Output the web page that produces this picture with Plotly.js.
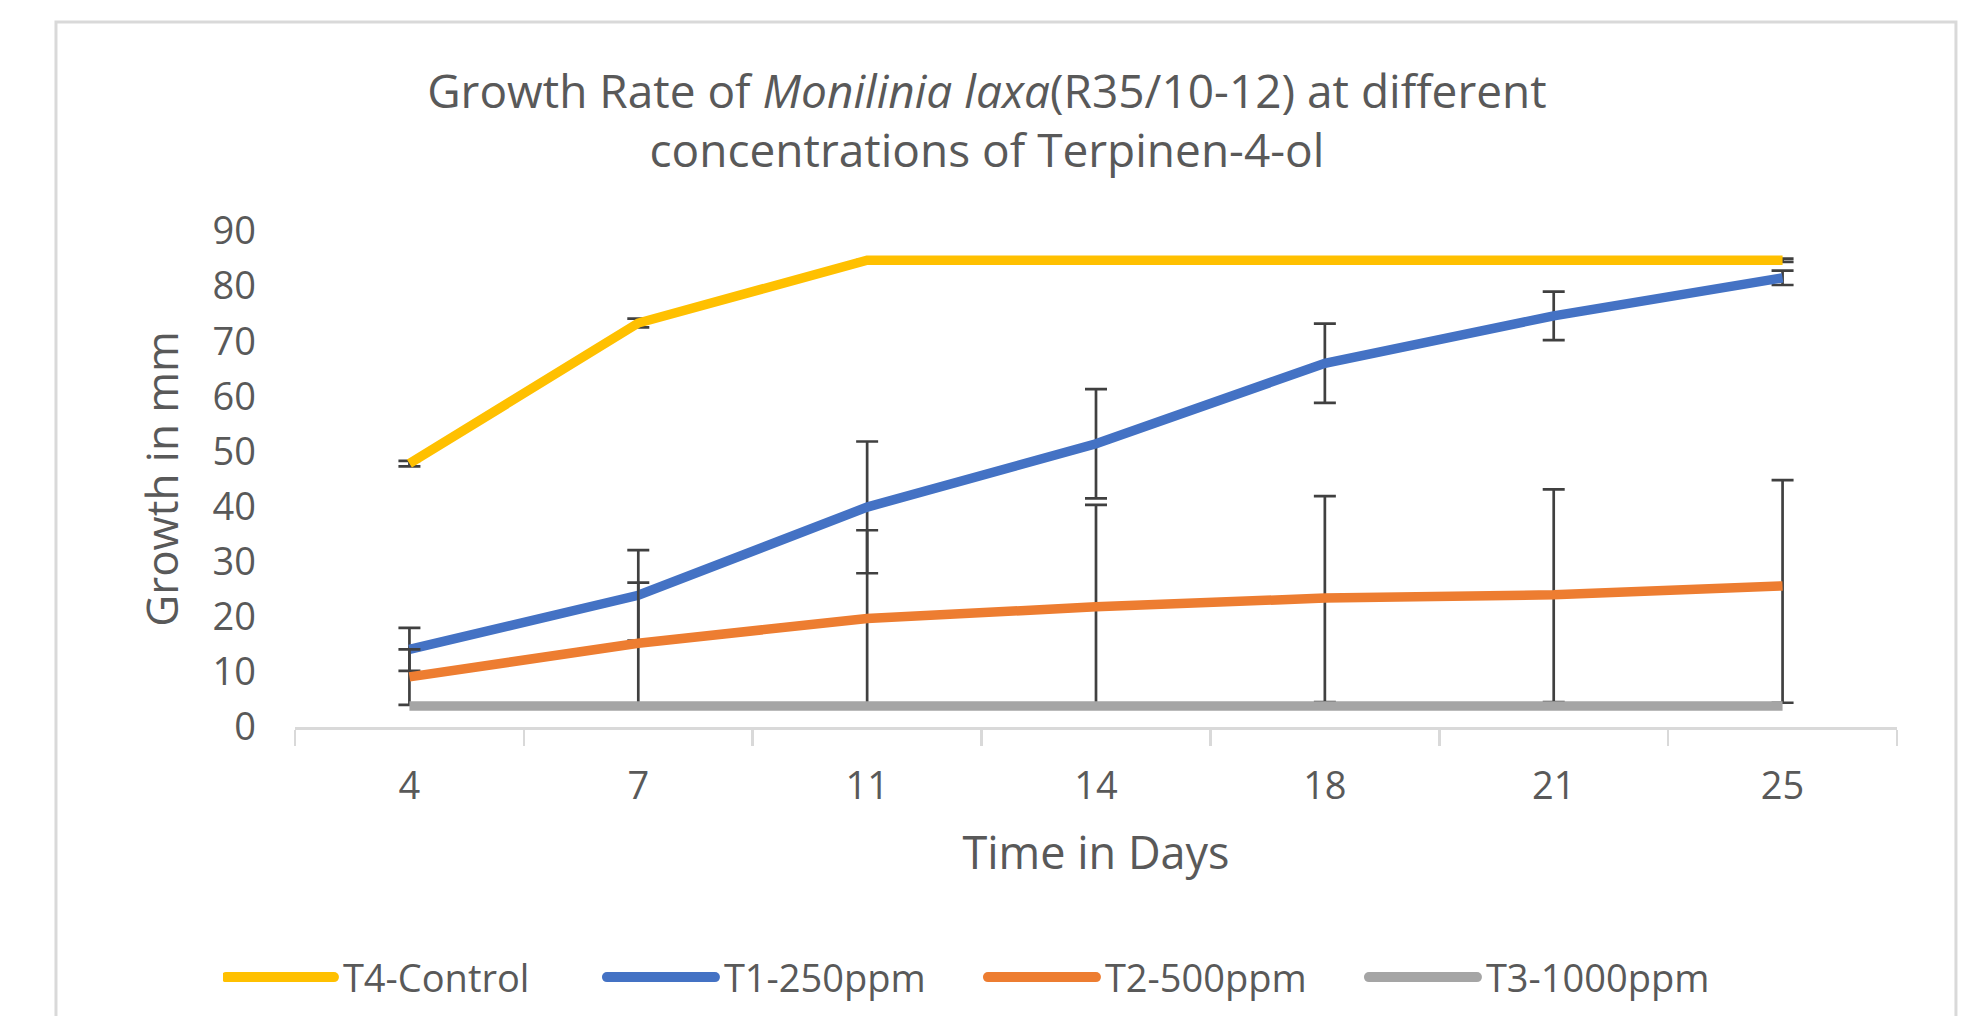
<!DOCTYPE html>
<html>
<head>
<meta charset="utf-8">
<script src="https://cdn.plot.ly/plotly-3.0.1.min.js"></script>
<style>
  html, body { margin: 0; padding: 0; background: #ffffff; }
  #chart { width: 1966px; height: 1016px; }
</style>
</head>
<body>
<div id="chart"></div>
<script>
// Categories (time in days)
const days = ["4", "7", "11", "14", "18", "21", "25"];

// Series names
const seriesNames = ["T4-Control", "T1-250ppm", "T2-500ppm", "T3-1000ppm"];

// Growth in mm
const t4Control = [47.8, 73.3, 84.7, 84.7, 84.7, 84.7, 84.7];
const t1_250 = [14.1, 23.9, 39.9, 51.4, 66.0, 74.6, 81.5];
const t2_500 = [9.1, 15.2, 19.7, 21.8, 23.4, 24.0, 25.6];
const t3_1000 = [3.8, 3.8, 3.8, 3.8, 3.8, 3.8, 3.8];

// Error bars (plus / minus)
const t4ErrPlus = [0.5, 0.8, 0, 0, 0, 0, 0.3];
const t4ErrMinus = [0.5, 0.8, 0, 0, 0, 0, 0.3];
const t1ErrPlus = [3.9, 8.2, 11.9, 9.9, 7.2, 4.4, 1.3];
const t1ErrMinus = [3.9, 8.2, 12.0, 9.9, 7.2, 4.4, 1.3];
const t2ErrPlus = [5.0, 11.0, 16.0, 18.5, 18.5, 19.1, 19.2];
const t2ErrMinus = [5.1, 11.0, 15.7, 18.3, 18.9, 19.5, 21.2];

const colors = ["#FFC000", "#4472C4", "#ED7D31", "#A5A5A5"];
const textColor = "#595959";
const font = "'Open Sans', 'Noto Sans', sans-serif";

function errY(plus, minus) {
  return {
    type: "data", symmetric: false, array: plus, arrayminus: minus,
    visible: true, color: "#404040", thickness: 2.7, width: 11
  };
}

const traces = [
  { x: days, y: t4Control, name: seriesNames[0], type: "scatter", mode: "lines",
    line: { color: colors[0], width: 9.5 }, error_y: errY(t4ErrPlus, t4ErrMinus) },
  { x: days, y: t1_250, name: seriesNames[1], type: "scatter", mode: "lines",
    line: { color: colors[1], width: 9.5 }, error_y: errY(t1ErrPlus, t1ErrMinus) },
  { x: days, y: t2_500, name: seriesNames[2], type: "scatter", mode: "lines",
    line: { color: colors[2], width: 9.5 }, error_y: errY(t2ErrPlus, t2ErrMinus) },
  { x: days, y: t3_1000, name: seriesNames[3], type: "scatter", mode: "lines",
    line: { color: colors[3], width: 9.5 } }
];

const layout = {
  width: 1966, height: 1016,
  paper_bgcolor: "#ffffff", plot_bgcolor: "#ffffff",
  margin: { l: 295, r: 69, t: 231, b: 289, pad: 0 },
  font: { family: font, color: textColor, size: 38 },
  title: {
    text: "Growth Rate of <i>Monilinia laxa</i>(R35/10-12) at different<br>concentrations of Terpinen-4-ol",
    font: { family: font, size: 46, color: textColor },
    xref: "container", x: 0.502, xanchor: "center",
    yref: "container", y: 0.894, yanchor: "top"
  },
  xaxis: {
    type: "category",
    range: [-0.5, 6.5],
    showline: true, linecolor: "#d9d9d9", linewidth: 2.5,
    ticks: "outside", tickson: "boundaries", ticklen: 16, tickcolor: "#d9d9d9", tickwidth: 2.5,
    ticklabelstandoff: 24,
    showgrid: false, zeroline: false,
    tickfont: { family: font, size: 38, color: textColor },
    title: { text: "Time in Days", font: { family: font, size: 45, color: textColor }, standoff: 29 },
    fixedrange: true
  },
  yaxis: {
    range: [0, 90],
    dtick: 10, tick0: 0,
    showline: false, showgrid: false, zeroline: false,
    ticks: "", ticklabelstandoff: 38,
    tickfont: { family: font, size: 38, color: textColor },
    title: { text: "Growth in mm", font: { family: font, size: 44, color: textColor }, standoff: 20 },
    fixedrange: true
  },
  showlegend: true,
  legend: {
    orientation: "h",
    xref: "container", x: 0.1134, xanchor: "left",
    yref: "container", y: 0.038, yanchor: "middle",
    font: { family: font, size: 38, color: textColor },
    bgcolor: "rgba(0,0,0,0)",
    itemwidth: 110,
    entrywidth: 256, entrywidthmode: "pixels",
    traceorder: "normal"
  },
  shapes: [
    { type: "rect", xref: "paper", yref: "paper",
      x0: -0.1492, x1: 1.0368, y0: -0.62, y1: 1.4214,
      line: { color: "#d9d9d9", width: 3 }, fillcolor: "rgba(0,0,0,0)", layer: "below" }
  ]
};

Plotly.newPlot("chart", traces, layout, { displayModeBar: false, staticPlot: true }).then(function () {
  // Lengthen legend line samples (Excel-style) and place each just before its label
  document.querySelectorAll("#chart .legend .traces").forEach(function (item) {
    var path = item.querySelector(".legendlines path");
    var text = item.querySelector("text.legendtext");
    if (!path || !text) return;
    var sampleLen = 108;
    path.setAttribute("d", "M0,0h" + sampleLen);
    path.style.strokeWidth = "10px";
    path.style.strokeLinecap = "round";
    var pr = path.getBoundingClientRect();
    var tr = text.getBoundingClientRect();
    var dx = (tr.left - 9) - pr.right;
    path.setAttribute("d", "M" + dx.toFixed(1) + ",0h" + sampleLen);
  });
});
</script>
</body>
</html>
